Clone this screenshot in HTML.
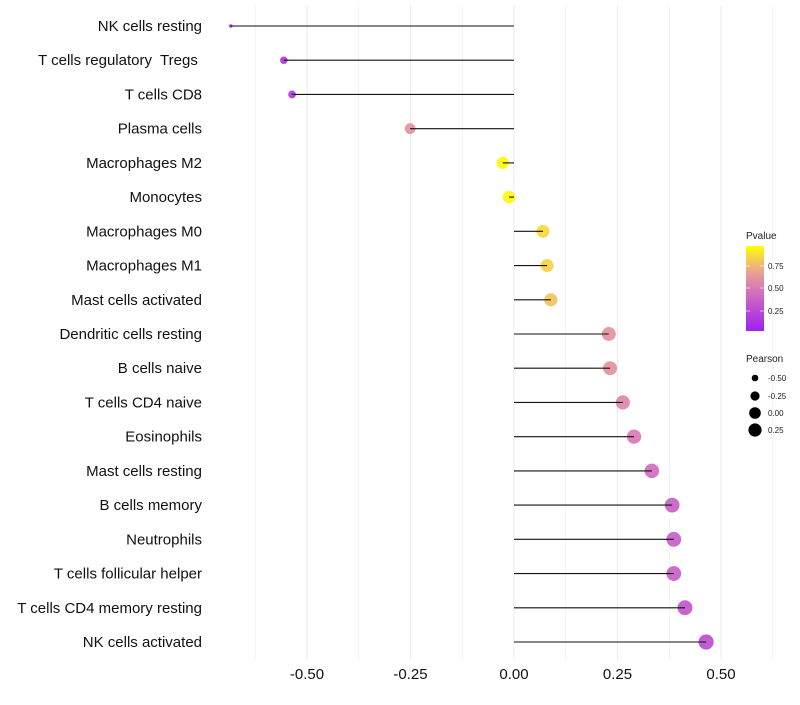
<!DOCTYPE html>
<html><head><meta charset="utf-8"><style>
body{margin:0;background:#fff;font-family:"Liberation Sans",sans-serif;}
svg text{font-family:"Liberation Sans",sans-serif;}
</style></head><body>
<svg id="chart" width="800" height="700" xmlns="http://www.w3.org/2000/svg">
<defs><linearGradient id="pg" x1="0" y1="1" x2="0" y2="0">
<stop offset="0" stop-color="#A020F0"/><stop offset="0.5" stop-color="#D878B8"/><stop offset="0.75" stop-color="#EFB080"/><stop offset="1" stop-color="#FFFF00"/>
</linearGradient></defs>
<g id="grid"></g><g id="marks"></g><g id="labels"></g><g id="xaxis"></g>
<g>
<text x="746" y="239" font-size="10" fill="#222">Pvalue</text>
<rect x="746" y="246" width="18" height="85" fill="url(#pg)"/>
<line x1="746" y1="266" x2="750" y2="266" stroke="#fff" stroke-opacity="0.6"/><line x1="760" y1="266" x2="764" y2="266" stroke="#fff" stroke-opacity="0.6"/>
<line x1="746" y1="288" x2="750" y2="288" stroke="#fff" stroke-opacity="0.6"/><line x1="760" y1="288" x2="764" y2="288" stroke="#fff" stroke-opacity="0.6"/>
<line x1="746" y1="311" x2="750" y2="311" stroke="#fff" stroke-opacity="0.6"/><line x1="760" y1="311" x2="764" y2="311" stroke="#fff" stroke-opacity="0.6"/>
<text x="768" y="269" font-size="8" fill="#222">0.75</text>
<text x="768" y="291" font-size="8" fill="#222">0.50</text>
<text x="768" y="314" font-size="8" fill="#222">0.25</text>
</g>
<g>
<text x="746" y="362" font-size="10" fill="#222">Pearson</text>
<circle cx="755" cy="378" r="3.3" fill="#000"/><text x="768" y="381" font-size="8" fill="#222">-0.50</text>
<circle cx="755" cy="396" r="4.6" fill="#000"/><text x="768" y="399" font-size="8" fill="#222">-0.25</text>
<circle cx="755" cy="413" r="5.8" fill="#000"/><text x="768" y="416" font-size="8" fill="#222">0.00</text>
<circle cx="755" cy="430" r="6.6" fill="#000"/><text x="768" y="433" font-size="8" fill="#222">0.25</text>
</g>
</svg>
<script>
const categories=["NK cells resting","T cells regulatory  Tregs ","T cells CD8","Plasma cells","Macrophages M2","Monocytes","Macrophages M0","Macrophages M1","Mast cells activated","Dendritic cells resting","B cells naive","T cells CD4 naive","Eosinophils","Mast cells resting","B cells memory","Neutrophils","T cells follicular helper","T cells CD4 memory resting","NK cells activated"];
const pearson=[-0.684,-0.556,-0.536,-0.251,-0.027,-0.012,0.070,0.080,0.089,0.229,0.232,0.263,0.290,0.333,0.382,0.386,0.386,0.413,0.464];
const pvalue=[0.06,0.12,0.13,0.62,0.97,0.98,0.88,0.86,0.82,0.62,0.62,0.56,0.51,0.43,0.37,0.36,0.36,0.31,0.26];
const xTicks=[-0.5,-0.25,0,0.25,0.5];
const xTickLabels=["-0.50","-0.25","0.00","0.25","0.50"];
const NS="http://www.w3.org/2000/svg";
const x=v=>514+v*414;
const y=i=>26+i*(642-26)/(categories.length-1);
function mk(t,a,p){const e=document.createElementNS(NS,t);for(const k in a)e.setAttribute(k,a[k]);p.appendChild(e);return e;}
const grid=document.getElementById('grid'),marks=document.getElementById('marks'),labels=document.getElementById('labels'),xa=document.getElementById('xaxis');
for(let v=-0.625;v<=0.626;v+=0.125){const l=mk('line',{x1:x(v),x2:x(v),y1:5,y2:660,stroke:'#ebebeb','stroke-width':Math.abs((v*8)%2)<0.01?1:0.6},grid);

}
const stops=[[0,[160,32,240]],[0.5,[216,120,184]],[0.75,[239,176,128]],[1,[255,255,0]]];
function col(p){for(let k=1;k<stops.length;k++){if(p<=stops[k][0]){const a=stops[k-1],b=stops[k];const t=(p-a[0])/(b[0]-a[0]);
return 'rgb('+a[1].map((c,i)=>Math.round(c+(b[1][i]-c)*t)).join(',')+')';}}return 'rgb(255,255,0)';}
const pmin=Math.min(...pearson),pmax=Math.max(...pearson);
categories.forEach((c,i)=>{
const r=1.8+5.8*Math.sqrt((pearson[i]-pmin)/(pmax-pmin));
const d=mk('circle',{cx:x(pearson[i]),cy:y(i),r:r,fill:col(pvalue[i]),'fill-opacity':0.92},marks);


const l=mk('line',{x1:x(0),x2:x(pearson[i]),y1:y(i),y2:y(i),stroke:'#111','stroke-width':1.1},marks);


const t=mk('text',{x:202,y:y(i)+5,'text-anchor':'end','font-size':15,fill:'#111','xml:space':'preserve'},labels);t.setAttribute('style','white-space:pre');t.textContent=c;


});
xTicks.forEach((v,i)=>{const t=mk('text',{x:x(v),y:679,'text-anchor':'middle','font-size':15,fill:'#111'},xa);t.textContent=xTickLabels[i];

});
</script>
</body></html>
